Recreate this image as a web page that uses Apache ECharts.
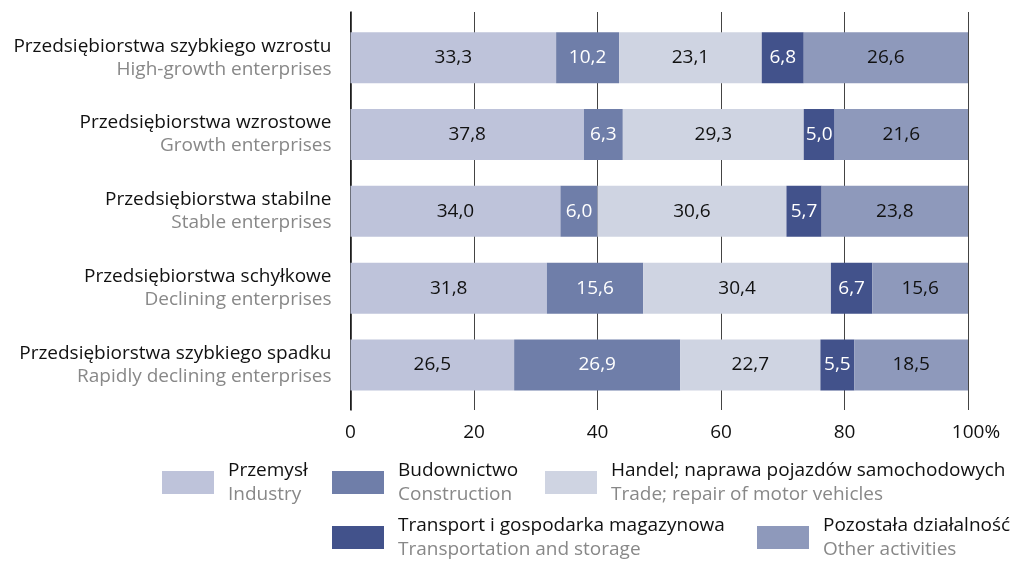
<!DOCTYPE html>
<html>
<head>
<meta charset="utf-8">
<script src="https://cdn.jsdelivr.net/npm/echarts@6/dist/echarts.min.js"></script>
<style>
  html, body { margin: 0; padding: 0; background: #fff; }
  #chart { width: 1012px; height: 561px; }
</style>
</head>
<body>
<div id="chart"></div>
<script>
  // kategorie (od góry)
  const categoriesPl = [
    "Przedsiębiorstwa szybkiego wzrostu",
    "Przedsiębiorstwa wzrostowe",
    "Przedsiębiorstwa stabilne",
    "Przedsiębiorstwa schyłkowe",
    "Przedsiębiorstwa szybkiego spadku",
  ];
  const categoriesEn = [
    "High-growth enterprises",
    "Growth enterprises",
    "Stable enterprises",
    "Declining enterprises",
    "Rapidly declining enterprises",
  ];

  const seriesPl = ["Przemysł", "Budownictwo", "Handel; naprawa pojazdów samochodowych", "Transport i gospodarka magazynowa", "Pozostała działalność"];
  const seriesEn = ["Industry", "Construction", "Trade; repair of motor vehicles", "Transportation and storage", "Other activities"];

  const przemysl = [33.3, 37.8, 34.0, 31.8, 26.5];
  const budownictwo = [10.2, 6.3, 6.0, 15.6, 26.9];
  const handel = [23.1, 29.3, 30.6, 30.4, 22.7];
  const transport = [6.8, 5.0, 5.7, 6.7, 5.5];
  const pozostala = [26.6, 21.6, 23.8, 15.6, 18.5];

  const xTicks = [0, 20, 40, 60, 80, 100];

  const FONT = "Open Sans";
  const FS = 19;
  const colors = ["#bec3da", "#6f7ea9", "#cfd4e2", "#42528b", "#8e99bb"];
  const labelColors = ["#111", "#fff", "#111", "#fff", "#111"];
  const values = [przemysl, budownictwo, handel, transport, pozostala];

  // pozycje legendy: [left, top]
  const legendPos = [[162, 461], [332, 461], [545, 461], [332, 516], [757, 516]];

  let myChart = echarts.init(document.getElementById("chart"));

  const series = seriesPl.map((name, i) => ({
    name: name,
    type: "bar",
    stack: "total",
    xAxisIndex: 0,
    yAxisIndex: 0,
    barWidth: 51,
    itemStyle: { color: colors[i] },
    label: {
      show: true,
      position: "inside",
      color: labelColors[i],
      fontFamily: FONT,
      fontSize: FS,
      formatter: (p) => p.value.toFixed(1).replace(".", ","),
    },
    emphasis: { disabled: true },
    data: values[i],
  }));

  const legends = seriesPl.map((name, i) => ({
    data: [name],
    left: legendPos[i][0],
    top: legendPos[i][1],
    padding: 0,
    itemWidth: 52,
    itemHeight: 23,
    selectedMode: false,
    icon: "rect",
    formatter: (n) => "{a|" + n + "}\n{b|" + seriesEn[seriesPl.indexOf(n)] + "}",
    textStyle: {
      rich: {
        a: { fontFamily: FONT, fontSize: FS, color: "#111", lineHeight: 24, padding: [0, 0, 0, 9] },
        b: { fontFamily: FONT, fontSize: FS, color: "#888", lineHeight: 24, padding: [0, 0, 0, 9] },
      },
    },
  }));

  myChart.setOption({
    animation: false,
    legend: legends,
    grid: [
      { left: 350.5, right: 44, top: 19.3, bottom: 157.6 },
      { left: 350.5, right: 44, top: 12, bottom: 151 },
    ],
    xAxis: [
      {
        type: "value",
        gridIndex: 0,
        min: 0,
        max: 100,
        show: false,
      },
      {
        type: "value",
        gridIndex: 1,
        min: xTicks[0],
        max: xTicks[xTicks.length - 1],
        interval: 20,
        axisLine: { show: false },
        axisTick: { show: false },
        splitLine: { show: true, lineStyle: { color: "#444", width: 1 } },
        axisLabel: {
          margin: 13,
          fontFamily: FONT,
          fontSize: FS,
          color: "#111",
          formatter: (v) => (v === 100 ? "{p|100%}" : String(v)),
          rich: { p: { fontFamily: FONT, fontSize: FS, color: "#111", padding: [0, 0, 0, 16] } },
        },
      },
    ],
    yAxis: [
      {
        type: "category",
        gridIndex: 0,
        inverse: true,
        data: categoriesPl,
        axisLine: { show: false },
        axisTick: { show: false },
        axisLabel: {
          margin: 19,
          formatter: (v, idx) => "{a|" + v + "}\n{b|" + categoriesEn[idx] + "}",
          rich: {
            a: { fontFamily: FONT, fontSize: FS, color: "#111", lineHeight: 23, align: "right" },
            b: { fontFamily: FONT, fontSize: FS, color: "#888", lineHeight: 23, align: "right" },
          },
        },
      },
      {
        type: "value",
        gridIndex: 1,
        axisLabel: { show: false },
        splitLine: { show: false },
        axisTick: { show: false },
        axisLine: { show: true, lineStyle: { color: "#111", width: 1.5 } },
      },
    ],
    series: series,
  });
</script>
</body>
</html>
